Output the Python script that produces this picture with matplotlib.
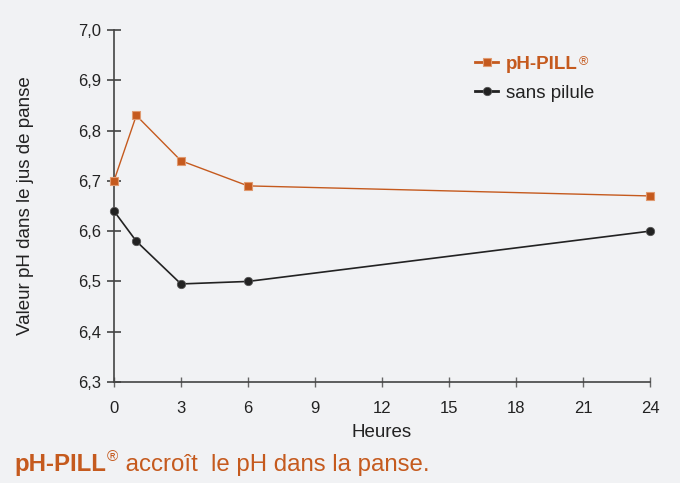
import matplotlib.pyplot as plt

plt.rcParams['font.family'] = ['Liberation Sans', 'DejaVu Sans']

# data
heures = [0, 1, 3, 6, 24]
ph_pill = [6.70, 6.83, 6.74, 6.69, 6.67]
sans_pilule = [6.64, 6.58, 6.495, 6.50, 6.60]
x_ticks = [0, 3, 6, 9, 12, 15, 18, 21, 24]
y_ticks = [6.3, 6.4, 6.5, 6.6, 6.7, 6.8, 6.9, 7.0]

orange = "#c55a1e"
dark = "#222222"
bg = "#f1f2f4"

fig = plt.figure(figsize=(6.8, 4.83), dpi=100, facecolor=bg)
ax = fig.add_axes([0.1676, 0.2091, 0.7882, 0.7288])
ax.set_facecolor(bg)

ax.plot(heures, ph_pill, color=orange, lw=1.0, marker="s", ms=6,
        mec="#e09a70", mfc=orange, mew=0.8, label="pH-PILL", clip_on=False, zorder=3)
ax.plot(heures, sans_pilule, color=dark, lw=1.2, marker="o", ms=6,
        mec="#555555", mfc=dark, mew=0.6, label="sans pilule", clip_on=False, zorder=3)

ax.set_xlim(0, 24)
ax.set_ylim(6.3, 7.0)
ax.set_xticks(x_ticks)
ax.set_yticks(y_ticks)
ax.set_yticklabels([f"{v:.1f}".replace(".", ",") for v in y_ticks])
for s in ["top", "right"]:
    ax.spines[s].set_visible(False)
for s in ["left", "bottom"]:
    ax.spines[s].set_color("#444444")
    ax.spines[s].set_linewidth(1.2)
ax.tick_params(axis="y", direction="inout", length=10, width=1.2, color="#444444",
               labelsize=12, labelcolor="#222222", pad=4)
ax.tick_params(axis="x", direction="inout", length=7, width=1.0, color="#666666",
               labelsize=12, labelcolor="#222222", pad=10)

ax.set_xlabel("Heures", fontsize=13.5, color="#222222", labelpad=6)
ax.set_ylabel("Valeur pH dans le jus de panse", fontsize=13.5, color="#222222", labelpad=32)

leg = ax.legend(loc="upper right", bbox_to_anchor=(0.928, 0.975), frameon=False,
                fontsize=13.5, handlelength=1.2, labelspacing=0.62, handletextpad=0.45)
for h in leg.legend_handles:
    h.set_linewidth(2)
txts = leg.get_texts()
txts[0].set_color(orange)
txts[0].set_fontweight("bold")
txts[1].set_color(dark)

fig.canvas.draw()
r = fig.canvas.get_renderer()

# small registered mark after the legend label
lb = txts[0].get_window_extent(r)
fig.text((lb.x1 + 1) / 680, (lb.y1 - 9) / 483, "®", fontsize=9, color=orange, va="baseline")

# caption at the bottom
t1 = fig.text(14 / 680, 12 / 483, "pH-PILL", fontsize=17.3, fontweight="bold",
              color=orange, va="baseline")
bb = t1.get_window_extent(r)
t2 = fig.text((bb.x1 + 1) / 680, 12 / 483 + 0.021, "®", fontsize=11, color=orange, va="baseline")
bb2 = t2.get_window_extent(r)
fig.text((bb2.x1 + 1) / 680, 12 / 483, " accroît  le pH dans la panse.", fontsize=17.3,
         color=orange, va="baseline")

fig.savefig("out.png", dpi=100, facecolor=bg)
